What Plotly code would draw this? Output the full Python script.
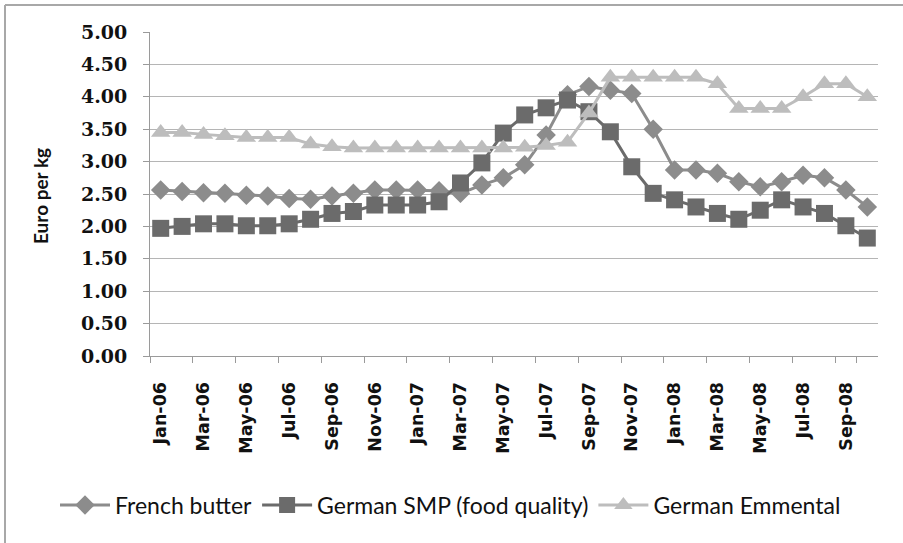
import plotly.graph_objects as go

# Monthly categories, Jan 2006 - Oct 2008
months = [
    "Jan-06", "Feb-06", "Mar-06", "Apr-06", "May-06", "Jun-06",
    "Jul-06", "Aug-06", "Sep-06", "Oct-06", "Nov-06", "Dec-06",
    "Jan-07", "Feb-07", "Mar-07", "Apr-07", "May-07", "Jun-07",
    "Jul-07", "Aug-07", "Sep-07", "Oct-07", "Nov-07", "Dec-07",
    "Jan-08", "Feb-08", "Mar-08", "Apr-08", "May-08", "Jun-08",
    "Jul-08", "Aug-08", "Sep-08", "Oct-08",
]

# Prices, euro per kg
french_butter = [
    2.56, 2.54, 2.52, 2.51, 2.48, 2.47, 2.43, 2.42, 2.47, 2.51, 2.56, 2.56,
    2.56, 2.55, 2.51, 2.64, 2.75, 2.95, 3.41, 4.03, 4.16, 4.10, 4.05, 3.50,
    2.87, 2.87, 2.82, 2.69, 2.61, 2.69, 2.79, 2.75, 2.56, 2.30,
]
german_smp = [
    1.97, 2.00, 2.04, 2.04, 2.01, 2.01, 2.04, 2.11, 2.20, 2.23, 2.33, 2.33,
    2.33, 2.38, 2.67, 2.98, 3.44, 3.72, 3.83, 3.95, 3.77, 3.46, 2.92, 2.51,
    2.41, 2.30, 2.20, 2.11, 2.25, 2.41, 2.30, 2.20, 2.01, 1.82,
]
german_emmental = [
    3.45, 3.45, 3.42, 3.40, 3.37, 3.37, 3.37, 3.27, 3.23, 3.21, 3.21, 3.21,
    3.21, 3.21, 3.21, 3.21, 3.21, 3.22, 3.25, 3.30, 3.75, 4.30, 4.30, 4.30,
    4.30, 4.30, 4.20, 3.82, 3.82, 3.82, 4.00, 4.20, 4.20, 4.00,
]

series = [
    ("French butter", french_butter, "#8c8c8c", "diamond", 15),
    ("German SMP (food quality)", german_smp, "#6b6b6b", "square", 17),
    ("German Emmental", german_emmental, "#bdbdbd", "triangle-up", 17),
]

fig = go.Figure()
for name, values, color, symbol, size in series:
    fig.add_trace(go.Scatter(
        x=months, y=values, name=name, mode="lines+markers",
        line=dict(color=color, width=3),
        marker=dict(symbol=symbol, size=size, color=color),
    ))

W, H = 903, 543
L, R, T, B = 150, 25, 32, 187
pw, ph = W - L - R, H - T - B

def px_x(x):
    return (x - L) / pw

def px_y(y):
    return (H - B - y) / ph

fig.update_layout(
    width=W, height=H,
    margin=dict(l=L, r=R, t=T, b=B),
    paper_bgcolor="white", plot_bgcolor="white",
    showlegend=True,
    legend=dict(
        orientation="h", x=px_x(55), y=px_y(505),
        xanchor="left", yanchor="middle",
        font=dict(family="Lato", size=23, color="#111111"),
        itemwidth=50, traceorder="normal",
    ),
    xaxis=dict(
        type="category",
        tickmode="array", tickvals=months[::2], ticktext=months[::2],
        tickson="boundaries",
        tickangle=-90,
        ticks="outside", ticklen=6, tickcolor="#9a9a9a",
        showline=True, linecolor="#9a9a9a", linewidth=1,
        showgrid=False,
        tickfont=dict(family="DejaVu Sans", size=17.5, weight="bold", color="#111111"),
        ticklabelstandoff=18,
        range=[-0.5, len(months) - 0.5],
    ),
    yaxis=dict(
        range=[0, 5], tickmode="linear", tick0=0, dtick=0.5,
        tickformat=".2f",
        ticks="outside", ticklen=6, tickcolor="#9a9a9a",
        showline=True, linecolor="#9a9a9a", linewidth=1,
        showgrid=True, gridcolor="#b5b5b5", gridwidth=1,
        zeroline=False,
        tickfont=dict(family="DejaVu Serif", size=19, weight="bold", color="#111111"),
        ticklabelstandoff=12,
    ),
    annotations=[dict(
        text="<b>Euro per kg</b>", textangle=-90,
        xref="paper", yref="paper", x=px_x(40), y=px_y(196),
        xanchor="center", yanchor="middle", showarrow=False,
        font=dict(family="Lato", size=19, color="#111111"),
    )],
    shapes=[
        dict(type="line", xref="paper", yref="paper",
             x0=px_x(5), x1=px_x(5), y0=px_y(5), y1=px_y(560),
             line=dict(color="#a8a8a8", width=2)),
        dict(type="line", xref="paper", yref="paper",
             x0=px_x(5), x1=px_x(910), y0=px_y(5), y1=px_y(5),
             line=dict(color="#a8a8a8", width=2)),
    ],
)

fig.write_html("out.html")
